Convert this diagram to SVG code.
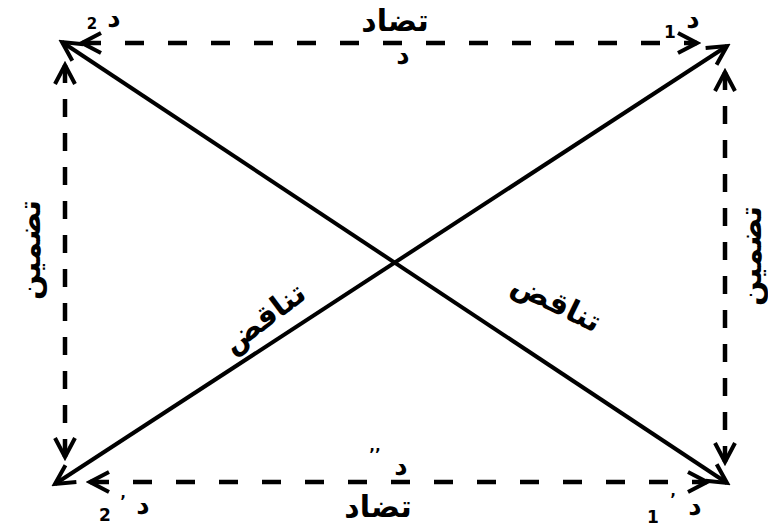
<svg xmlns="http://www.w3.org/2000/svg" width="768" height="528" viewBox="0 0 768 528">
<style>
.solid{stroke:#000;stroke-width:4;fill:none}
.dash{stroke:#000;stroke-width:4.5;fill:none}
.h{stroke-dasharray:19 24}
.v{stroke-dasharray:18 16}
text{font-family:"DejaVu Sans",sans-serif;font-weight:bold;fill:#000}
.lbl{font-size:30px}
.sm{font-size:26px}
.dg{font-size:17px}
.xs{font-size:15px}
</style>
<defs>
<marker id="ah" markerUnits="userSpaceOnUse" markerWidth="28" markerHeight="28" viewBox="0 0 28 28" refX="24" refY="14" orient="auto-start-reverse">
<path d="M5,4 L24,14 L5,24" fill="none" stroke="#000" stroke-width="4" stroke-dasharray="none"/>
</marker>
</defs>
<rect width="768" height="528" fill="#fff"/>
<g id="connectors">
<line class="solid" x1="62" y1="42" x2="727" y2="483" marker-start="url(#ah)" marker-end="url(#ah)"/>
<line class="solid" x1="55" y1="484" x2="727" y2="46" marker-start="url(#ah)" marker-end="url(#ah)"/>
<line class="dash h" x1="82" y1="43" x2="697" y2="43" marker-start="url(#ah)" marker-end="url(#ah)"/>
<line class="dash h" x1="90" y1="482" x2="707" y2="482" marker-start="url(#ah)" marker-end="url(#ah)"/>
<line class="dash v" x1="65" y1="65" x2="65" y2="457" marker-start="url(#ah)" marker-end="url(#ah)"/>
<line class="dash v" x1="725" y1="72" x2="725" y2="462" marker-start="url(#ah)" marker-end="url(#ah)"/>
</g>
<g id="node-top-left">
<text class="xs" x="92" y="29" text-anchor="middle">2</text>
<text class="sm" x="114" y="27" text-anchor="middle">د</text>
</g>
<g id="node-top-right">
<text class="dg" x="670" y="38" text-anchor="middle">1</text>
<text class="sm" x="693" y="28" text-anchor="middle">د</text>
</g>
<g id="node-bottom-left">
<text class="dg" x="105" y="521" text-anchor="middle">2</text>
<text class="xs" x="123" y="507" text-anchor="middle">’</text>
<text class="sm" x="143" y="514" text-anchor="middle">د</text>
</g>
<g id="node-bottom-right">
<text class="dg" x="653" y="523" text-anchor="middle">1</text>
<text class="xs" x="673" y="505" text-anchor="middle">’</text>
<text class="sm" x="695" y="515" text-anchor="middle">د</text>
</g>
<g id="label-top">
<text class="lbl" x="395" y="31" text-anchor="middle">تضاد</text>
<text class="sm" x="403" y="64" text-anchor="middle">د</text>
</g>
<g id="label-bottom">
<text class="lbl" x="378" y="517" text-anchor="middle">تضاد</text>
<text class="xs" x="375" y="460" text-anchor="middle">’’</text>
<text class="sm" x="401" y="475" text-anchor="middle">د</text>
</g>
<g id="label-left">
<text class="lbl" transform="translate(40,250) rotate(-90)" text-anchor="middle">تضمين</text>
</g>
<g id="label-right">
<text class="lbl" transform="translate(761,256) rotate(-90)" text-anchor="middle">تضمين</text>
</g>
<g id="label-diag-left">
<text class="lbl" transform="translate(270,326) rotate(-37)" text-anchor="middle">تناقض</text>
</g>
<g id="label-diag-right">
<text class="lbl" transform="translate(552,312) rotate(26)" text-anchor="middle">تناقض</text>
</g>
</svg>
